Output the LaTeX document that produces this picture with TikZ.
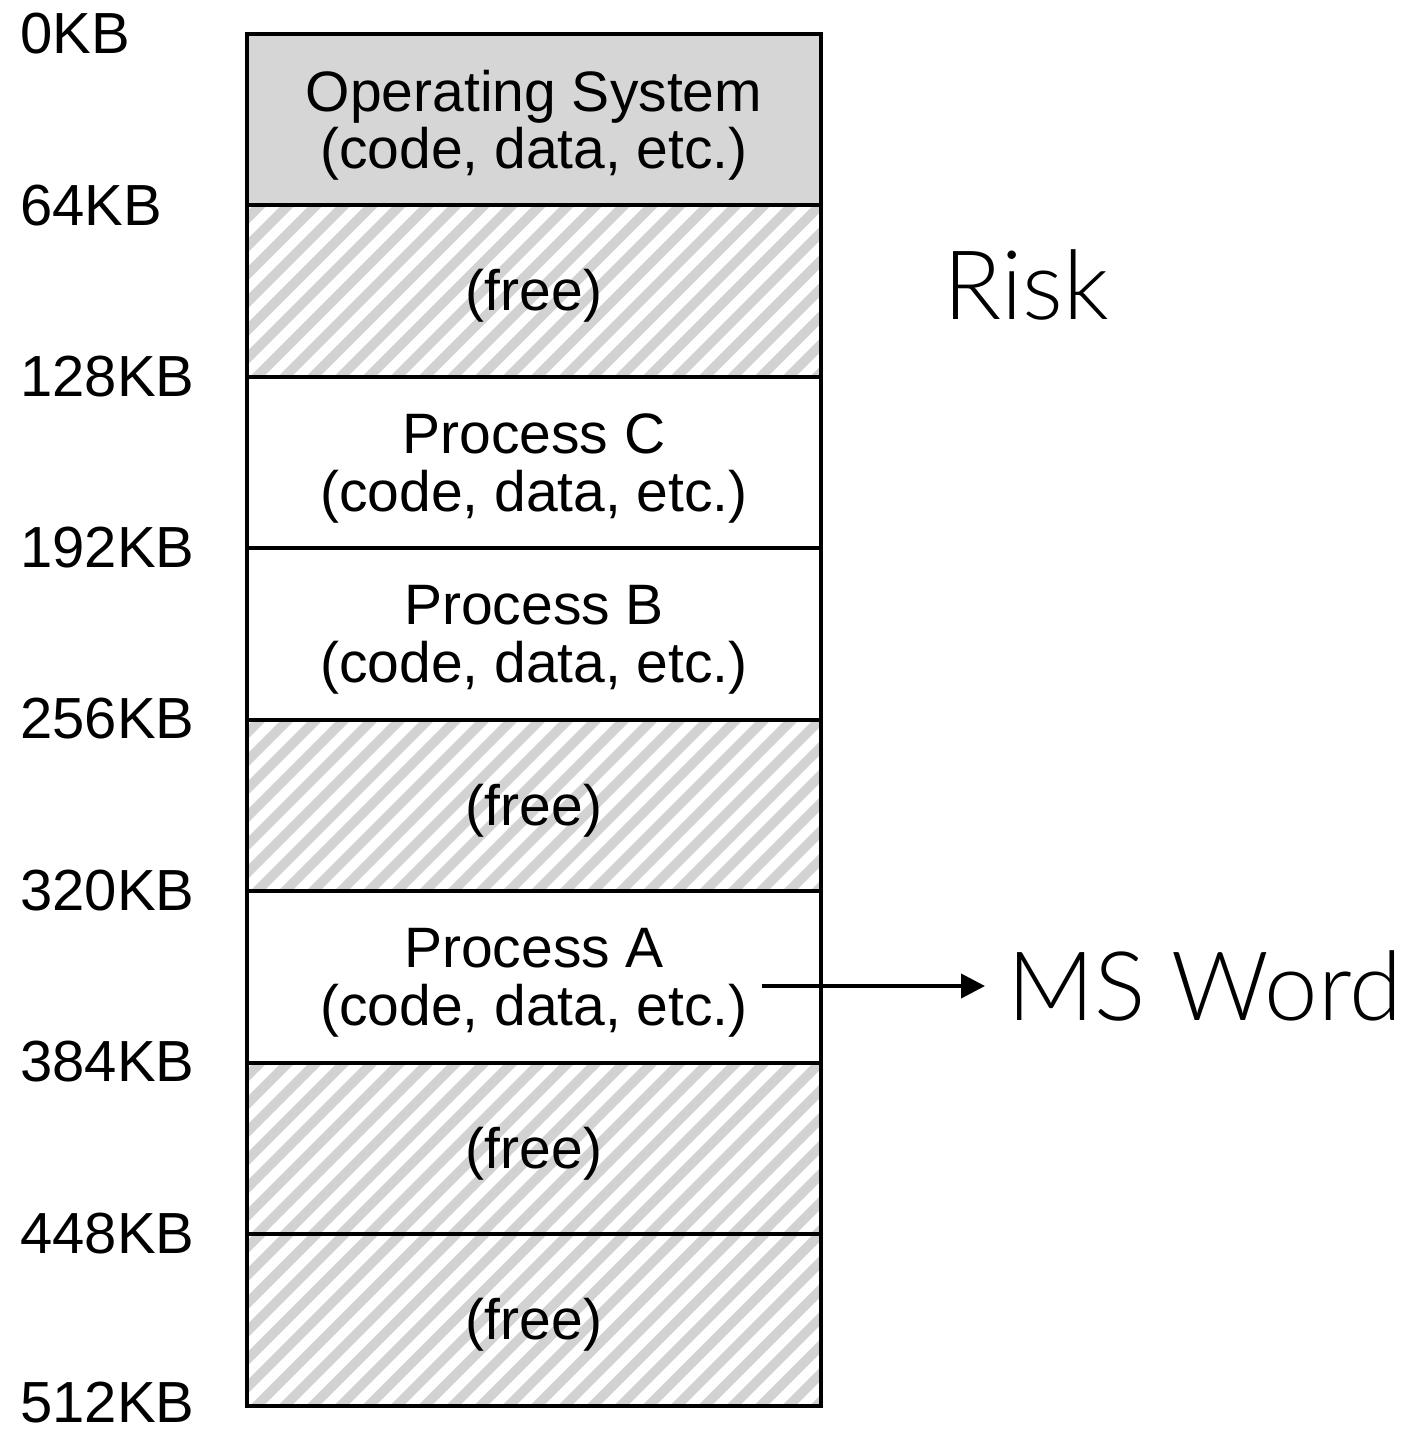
\documentclass[tikz,border=0pt]{standalone}
\usepackage{fontspec}
\setmainfont{Liberation Sans}
\newfontfamily\thinfont{Lato}[UprightFont={* Light}]
\usetikzlibrary{arrows.meta,calc}

\definecolor{osgray}{RGB}{214,214,214}
\definecolor{stripegray}{RGB}{210,210,210}

\tikzset{
  seg/.style={draw=black, line width=2pt, minimum width=287pt, minimum height=85.75pt,
    inner sep=0pt},
  freeseg/.style={seg, path picture={
      \foreach \i in {-9,...,22}
        \draw[stripegray, line width=4.8pt]
          ($(path picture bounding box.south west)+(\i*14pt,-5pt)$) -- ++(110pt,110pt);
    }},
  segtext/.style={inner sep=0pt, align=center, font=\fontsize{28.5}{28.8}\selectfont},
  addr/.style={anchor=west, inner sep=0pt, font=\fontsize{29}{30}\selectfont},
  side/.style={font=\thinfont\fontsize{48}{50}\selectfont, inner sep=0pt},
  arr/.style={line width=2pt, -{Triangle[length=12pt,width=12pt]}}
}

\begin{document}
\begin{tikzpicture}[x=0.5pt,y=-0.5pt]
  \useasboundingbox (0,0) rectangle (1403,1430);

  % memory regions, top to bottom
  \node[seg, fill=osgray] (os) at (534,119.25) {};
  \node[freeseg] (free1) at (534,290.75) {};
  \node[seg] (pc) at (534,462.25) {};
  \node[seg] (pb) at (534,633.75) {};
  \node[freeseg] (free2) at (534,805.25) {};
  \node[seg] (pa) at (534,976.75) {};
  \node[freeseg] (free3) at (534,1148.25) {};
  \node[freeseg] (free4) at (534,1319.75) {};

  % region contents
  \node[segtext] (ostext) at ($(os)+(0,6)$) {Operating System\\(code, data, etc.)};
  \node[segtext] (free1text) at ($(free1)+(0,5)$) {(free)};
  \node[segtext] (pctext) at ($(pc)+(0,6)$) {Process C\\(code, data, etc.)};
  \node[segtext] (pbtext) at ($(pb)+(0,6)$) {Process B\\(code, data, etc.)};
  \node[segtext] (free2text) at ($(free2)+(0,5)$) {(free)};
  \node[segtext] (patext) at ($(pa)+(0,6)$) {Process A\\(code, data, etc.)};
  \node[segtext] (free3text) at ($(free3)+(0,5)$) {(free)};
  \node[segtext] (free4text) at ($(free4)+(0,5)$) {(free)};

  % address labels
  \node[addr] (a0) at (20,34) {0KB};
  \node[addr] (a1) at (20,206) {64KB};
  \node[addr] (a2) at (20,377) {128KB};
  \node[addr] (a3) at (20,548) {192KB};
  \node[addr] (a4) at (20,719) {256KB};
  \node[addr] (a5) at (20,891) {320KB};
  \node[addr] (a6) at (20,1062) {384KB};
  \node[addr] (a7) at (20,1234) {448KB};
  \node[addr] (a8) at (20,1403) {512KB};

  % annotations
  \node[side, anchor=west] (risk) at (943,285) {Risk};
  \node[side, anchor=west, inner xsep=11pt] (msword) at (985,986) {MS Word};
  \coordinate (astart) at (762,986);
  \draw[arr] (astart) -- (msword.west);
\end{tikzpicture}
\end{document}
